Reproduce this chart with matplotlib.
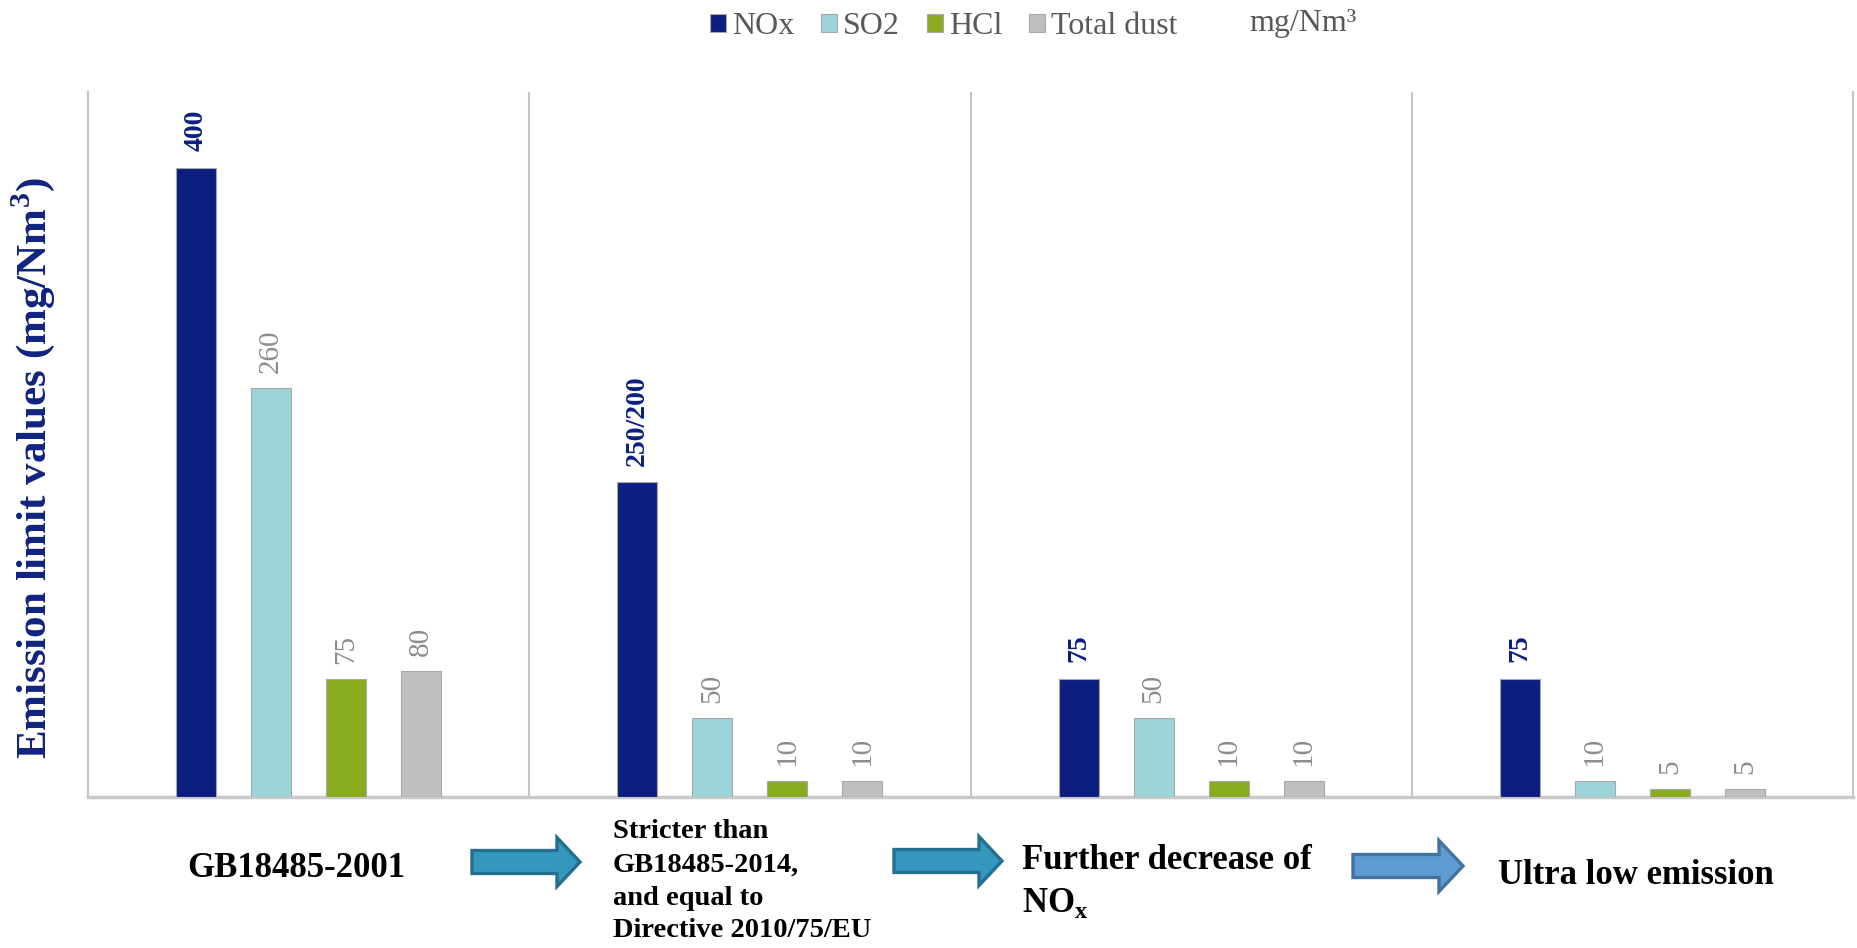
import numpy as np
import matplotlib
matplotlib.use("Agg")
import matplotlib.pyplot as plt
from matplotlib.patches import Polygon

plt.rcParams['font.family'] = ['Liberation Serif', 'DejaVu Serif']
plt.rcParams['mathtext.fontset'] = 'custom'
plt.rcParams['mathtext.rm'] = 'Liberation Serif'
plt.rcParams['mathtext.bf'] = 'Liberation Serif:bold'

# ---- data -------------------------------------------------------------
stages = ["GB18485-2001", "Stricter than GB18485-2014", "Further decrease of NOx", "Ultra low emission"]
series = ["NOx", "SO2", "HCl", "Total dust"]
nox = [400, 200, 75, 75]
so2 = [260, 50, 50, 10]
hcl = [75, 10, 10, 5]
dust = [80, 10, 10, 5]
nox_labels = ["400", "250/200", "75", "75"]
so2_labels = ["260", "50", "50", "10"]
hcl_labels = ["75", "10", "10", "5"]
dust_labels = ["80", "10", "10", "5"]

colors = ["#0C1E7F", "#9DD4DA", "#89AC1F", "#BFBFBF"]

W, H = 1857, 948
fig = plt.figure(figsize=(W / 100, H / 100), dpi=100)
fig.patch.set_facecolor("white")


def fx(px):
    return px / W


def fy(py):
    return 1 - py / H


ax = fig.add_axes([fx(88), fy(797), (1853 - 88) / W, (797 - 92.4) / H])

x = np.arange(len(stages))
step = 0.17
width = 0.091
values = [nox, so2, hcl, dust]
labels = [nox_labels, so2_labels, hcl_labels, dust_labels]
bars = []
for i, (vals, labs) in enumerate(zip(values, labels)):
    b = ax.bar(x + (i - 1.5) * step, vals, width, color=colors[i],
               edgecolor="#A8A8A8", linewidth=0.8, label=series[i], zorder=3)
    bars.append(b)
    if i == 0:
        ax.bar_label(b, labels=labs, padding=12, rotation=90,
                     fontsize=20, fontweight="bold", color="#0C1E7F")
    else:
        ax.bar_label(b, labels=labs, padding=11, rotation=90,
                     fontsize=21, color="#8C8C8C")

ax.set_xlim(-0.5, 3.5)
ax.set_ylim(0, 448)
for sep in [0.5, 1.5, 2.5]:
    ax.axvline(sep, color="#C4C4C4", linewidth=1.5, zorder=1)
ax.spines["top"].set_visible(False)
for side in ["left", "right"]:
    ax.spines[side].set_color("#C4C4C4")
    ax.spines[side].set_linewidth(1.5)
ax.spines["bottom"].set_color("#C9C9C9")
ax.spines["bottom"].set_linewidth(2.5)
ax.set_xticks([])
ax.set_yticks([])

# y axis title
fig.text(fx(33), fy(468), r"Emission limit values (mg/Nm$^{\mathbf{3}}$)",
         rotation=90, ha="center", va="center", fontsize=31,
         fontweight="bold", color="#10237F")

# legend and unit
fig.legend(handles=bars, labels=series, loc="center",
           bbox_to_anchor=(fx(944), fy(27)), ncol=4, frameon=False,
           fontsize=23, handlelength=0.5, handleheight=0.5,
           handletextpad=0.19, columnspacing=0.84, labelcolor="#595959")
fig.text(fx(1249), fy(24), "mg/Nm³", ha="left", va="center",
         fontsize=23, color="#595959")

# stage captions below the axis
fig.text(fx(296), fy(877), "GB18485-2001", ha="center", va="baseline",
         fontsize=25, fontweight="bold", color="black")
for txt, base in zip(["Stricter than", "GB18485-2014,", "and equal to",
                      "Directive 2010/75/EU"], [838, 872, 905, 937]):
    fig.text(fx(613), fy(base), txt, ha="left", va="baseline",
             fontsize=20.5, fontweight="bold", color="black")
fig.text(fx(1022), fy(869), "Further decrease of", ha="left", va="baseline",
         fontsize=25, fontweight="bold", color="black")
fig.text(fx(1022), fy(912), r"NO$_{\mathbf{x}}$", ha="left", va="baseline",
         fontsize=25, fontweight="bold", color="black")
fig.text(fx(1498), fy(884), "Ultra low emission", ha="left", va="baseline",
         fontsize=25, fontweight="bold", color="black")


# block arrows between the stages
def block_arrow(x0, xb, xt, yc, shaft, head, face, edge):
    pts = [(x0, yc - shaft / 2), (xb, yc - shaft / 2), (xb, yc - head / 2),
           (xt, yc), (xb, yc + head / 2), (xb, yc + shaft / 2),
           (x0, yc + shaft / 2)]
    poly = Polygon([(fx(px), fy(py)) for px, py in pts], closed=True,
                   transform=fig.transFigure, facecolor=face, edgecolor=edge,
                   linewidth=2.4, joinstyle="miter")
    fig.add_artist(poly)


block_arrow(472, 557, 580, 862, 23, 49, "#3597BE", "#246F8E")
block_arrow(894, 979, 1002, 861, 23, 49, "#3597BE", "#246F8E")
block_arrow(1353, 1439, 1463, 866, 23, 51, "#5F9BD3", "#44729E")

fig.savefig("out.png", dpi=100, facecolor="white")
